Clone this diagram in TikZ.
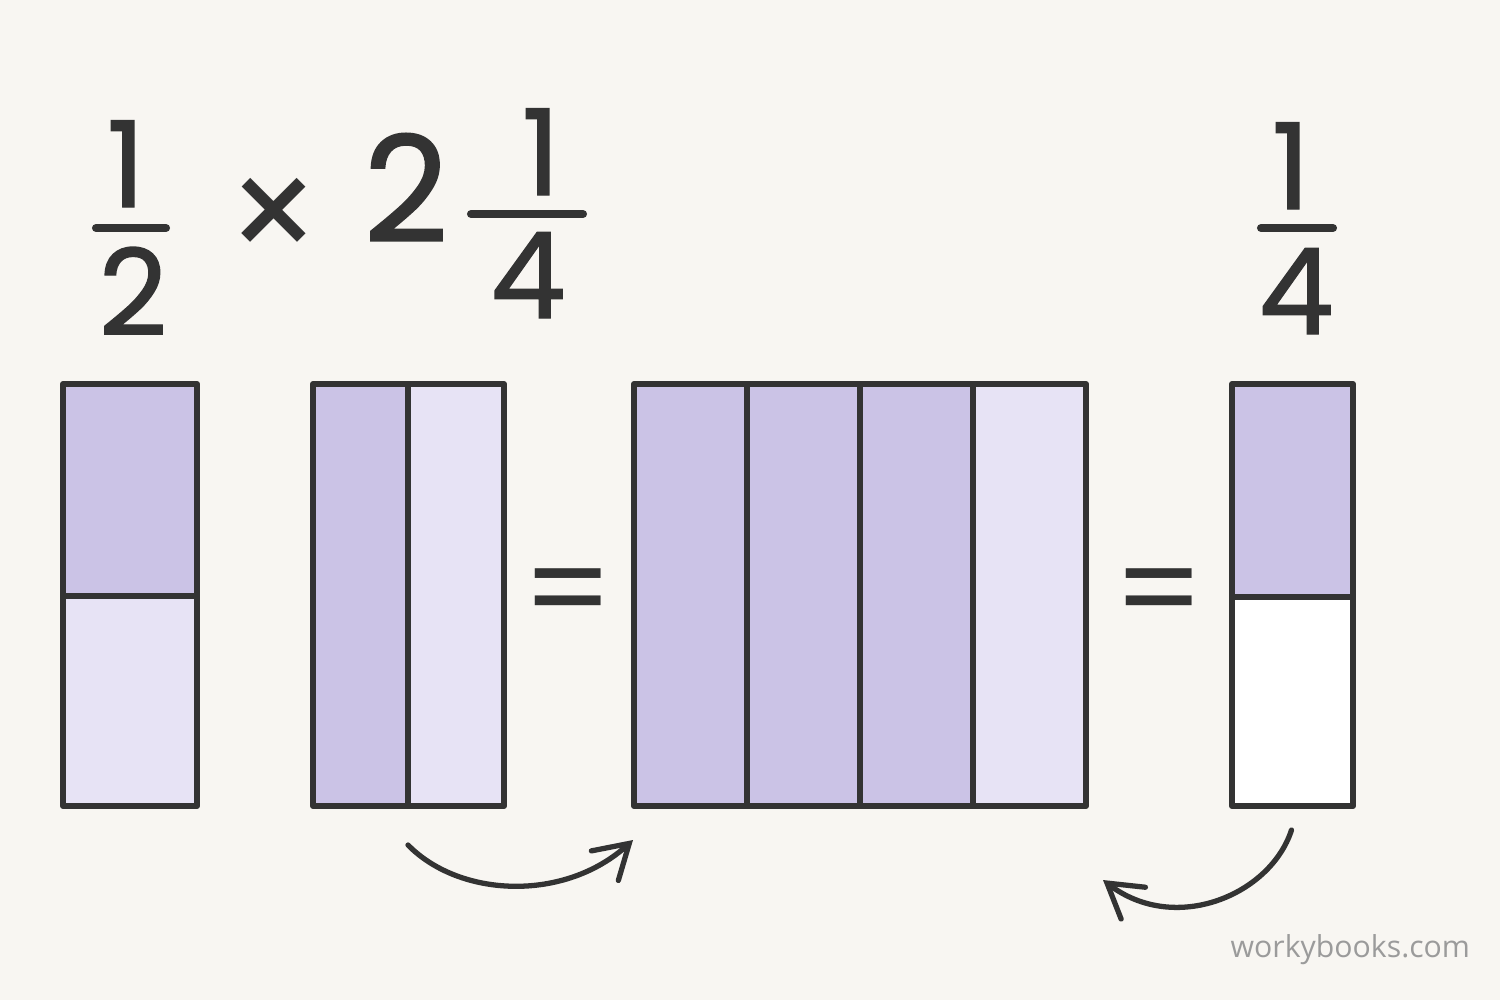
\documentclass[tikz,border=0pt]{standalone}
\usepackage{fontspec}
\setmainfont{Poppins}[FakeBold=1.2]
\newfontfamily\opfont{Poppins}
\newfontfamily\sitefont{Open Sans}
\usetikzlibrary{calc,arrows.meta}

\definecolor{ink}{HTML}{333333}
\definecolor{lavdark}{HTML}{CBC3E6}
\definecolor{lavlight}{HTML}{E7E3F5}
\definecolor{paper}{HTML}{F8F6F2}
\definecolor{sitegray}{HTML}{9B9B9B}

\begin{document}
\begin{tikzpicture}[
  x=0.1mm, y=-0.1mm,
  cell/.style={draw=ink, line width=1.7pt, line join=round, inner sep=0pt,
               outer sep=0pt, minimum height=42.2mm},
  dark/.style={cell, fill=lavdark},
  light/.style={cell, fill=lavlight},
  num/.style={anchor=base, inner sep=0pt, text=ink, font=\fontsize{34}{40}\selectfont},
  op/.style={anchor=center, inner sep=0pt, text=ink, font=\opfont\fontsize{36}{40}\selectfont},
  bar/.style={draw=ink, line width=2.3pt, line cap=round},
  arr/.style={draw=ink, line width=1.5pt, line cap=round,
              -{Straight Barb[length=3.3mm, width=4mm, line cap=round]}}
]

% background
\fill[paper] (0,0) rectangle (1500,1000);
\useasboundingbox (0,0) rectangle (1500,1000);

% the sum: 1/2 x 2 1/4
\node[num] (halfnum) at (126,207) {1};
\node[num] (halfden) at (133,335) {2};
\draw[bar] (96,228) -- (166,228);
\node[op, font=\opfont\fontsize{42}{48}\selectfont] (times) at (274,221) {×};
\node[num, font=\fontsize{42}{48}\selectfont] (whole) at (406,242) {2};
\node[num] (quartnum) at (541,195) {1};
\node[num] (quartden) at (528,318) {4};
\draw[bar] (471,214) -- (583,214);

% the answer: 1/4
\node[num] (ansnum) at (1291,209) {1};
\node[num] (ansden) at (1296,334) {4};
\draw[bar] (1261,228) -- (1333,228);

% bar for 1/2
\node[dark, minimum width=13.4mm, minimum height=21.2mm] (b1t) at (130,490) {};
\node[light, minimum width=13.4mm, minimum height=21.0mm] (b1b) at (130,701) {};

% bar for 2 1/4 (one whole, one quarter)
\node[dark, minimum width=9.5mm] (b2l) at (360.5,595) {};
\node[light, minimum width=9.6mm] (b2r) at (456,595) {};

\node[op] (eq1) at (568,601) {=};

% product in quarters
\node[dark, minimum width=11.3mm] (b3a) at (690.5,595) {};
\node[dark, minimum width=11.3mm] (b3b) at (803.5,595) {};
\node[dark, minimum width=11.3mm] (b3c) at (916.5,595) {};
\node[light, minimum width=11.3mm] (b3d) at (1029.5,595) {};

\node[op] (eq2) at (1159,601) {=};

% result bar
\node[dark, minimum width=12.1mm, minimum height=21.3mm] (b4t) at (1292.5,490.5) {};
\node[cell, fill=white, minimum width=12.1mm, minimum height=20.9mm] (b4b) at (1292.5,701.5) {};

% arrows
\draw[arr] ($(b2r.south west)+(0,39)$) .. controls +(52,53) and +(-68,62) .. ($(b3a.south west)+(-1,34)$);
\draw[arr] ($(b4b.south)+(-1,24)$) .. controls +(-21,65) and +(72,55) .. ($(b3d.south east)+(17,74)$);

\node[anchor=base west, inner sep=0pt, text=sitegray,
      font=\sitefont\fontsize{8.6}{10}\selectfont] (site) at (1230,957) {workybooks.com};

\end{tikzpicture}
\end{document}
